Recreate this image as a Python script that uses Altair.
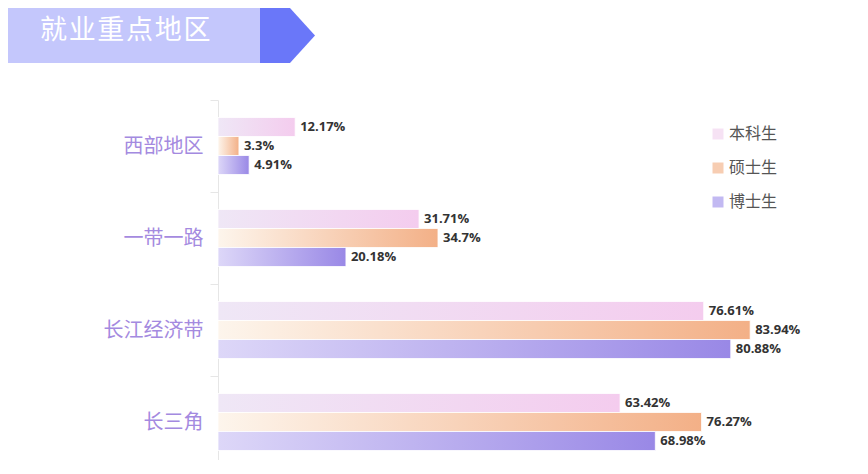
import altair as alt
import pandas as pd

regions = ["西部地区", "一带一路", "长江经济带", "长三角"]
degrees = ["本科生", "硕士生", "博士生"]
bachelor = [12.17, 31.71, 76.61, 63.42]
master = [3.3, 34.7, 83.94, 76.27]
doctor = [4.91, 20.18, 80.88, 68.98]
legend_colors = ["#f2d6f0", "#f4b892", "#a89bec"]
grad_stops = {
    "本科生": ("#efe7f6", "#f4ccee"),
    "硕士生": ("#fdf5ec", "#f3b087"),
    "博士生": ("#ddd7f8", "#9988e6"),
}
title_text = "\u200a".join("就业重点地区")

rows = []
for deg, vals in zip(degrees, [bachelor, master, doctor]):
    for r, v in zip(regions, vals):
        rows.append({"region": r, "degree": deg, "value": v})
df = pd.DataFrame(rows)

y_enc = alt.Y(
    "region:N",
    sort=regions,
    scale=alt.Scale(domain=regions, range=[0, 368], paddingInner=0, paddingOuter=0),
    axis=alt.Axis(
        title=None,
        tickBand="extent",
        tickSize=8,
        labelPadding=7,
        labelFontSize=20,
        labelFont="Noto Sans CJK SC",
        labelColor="#a48ae0",
        domainColor="#e6e6e6",
        tickColor="#e6e6e6",
    ),
)
yoff_enc = alt.YOffset(
    "degree:N",
    sort=degrees,
    scale=alt.Scale(domain=degrees, paddingInner=0, paddingOuter=0.92),
)
x_enc = alt.X("value:Q", scale=alt.Scale(domain=[0, 100]), axis=None)

base = alt.Chart(df)

bar_layers = []
for deg in degrees:
    c0, c1 = grad_stops[deg]
    g = alt.Gradient(
        gradient="linear", x1=0, y1=0, x2=1, y2=0,
        stops=[alt.GradientStop(color=c0, offset=0), alt.GradientStop(color=c1, offset=1)],
    )
    bar_layers.append(
        base.transform_filter(alt.datum.degree == deg)
        .mark_bar(fill=g, stroke="#ffffff", strokeWidth=1, strokeOpacity=0.8)
        .encode(x=x_enc, y=y_enc, yOffset=yoff_enc)
    )

labels = base.transform_calculate(label="datum.value + '%'").mark_text(
    align="left", baseline="middle", dx=5, font="Open Sans", fontWeight="bold",
    fontSize=13, color="#333333"
).encode(x=x_enc, y=y_enc, yOffset=yoff_enc, text="label:N")

legend_layer = base.transform_filter("false").mark_square().encode(
    color=alt.Color(
        "degree:N",
        scale=alt.Scale(domain=degrees, range=legend_colors),
        legend=alt.Legend(
            orient="none", legendX=492, legendY=26, title=None,
            symbolType="square", symbolSize=121, symbolStrokeWidth=0,
            labelFontSize=16, labelColor="#555555", labelFont="Noto Sans CJK SC",
            rowPadding=18, labelOffset=3,
        ),
    )
)

one = alt.Data(values=[{}])
banner = alt.Chart(one).mark_rect(color="#c4c7fc").encode(
    x=alt.value(-210), x2=alt.value(42), y=alt.value(-92), y2=alt.value(-37)
)
arrow = alt.Chart(one).mark_point(
    shape="M-1,-1L0.09,-1L1,0L0.09,1L-1,1Z", filled=True, size=3025,
    color="#6a77f9", opacity=1, strokeWidth=0
).encode(x=alt.value(69.5), y=alt.value(-64.5))
title = alt.Chart(one).mark_text(
    text=title_text, color="white", fontSize=27, font="Noto Sans CJK SC",
    align="left", baseline="middle"
).encode(x=alt.value(-178), y=alt.value(-69))

chart = alt.layer(banner, arrow, title, *bar_layers, labels, legend_layer).properties(
    width=634, height=360,
    autosize=alt.AutoSizeParams(type="none"),
    padding={"left": 210, "top": 92, "right": 8, "bottom": 0},
).configure_view(stroke=None)

chart.save("out.html", embed_options={"renderer": "svg", "actions": False})
